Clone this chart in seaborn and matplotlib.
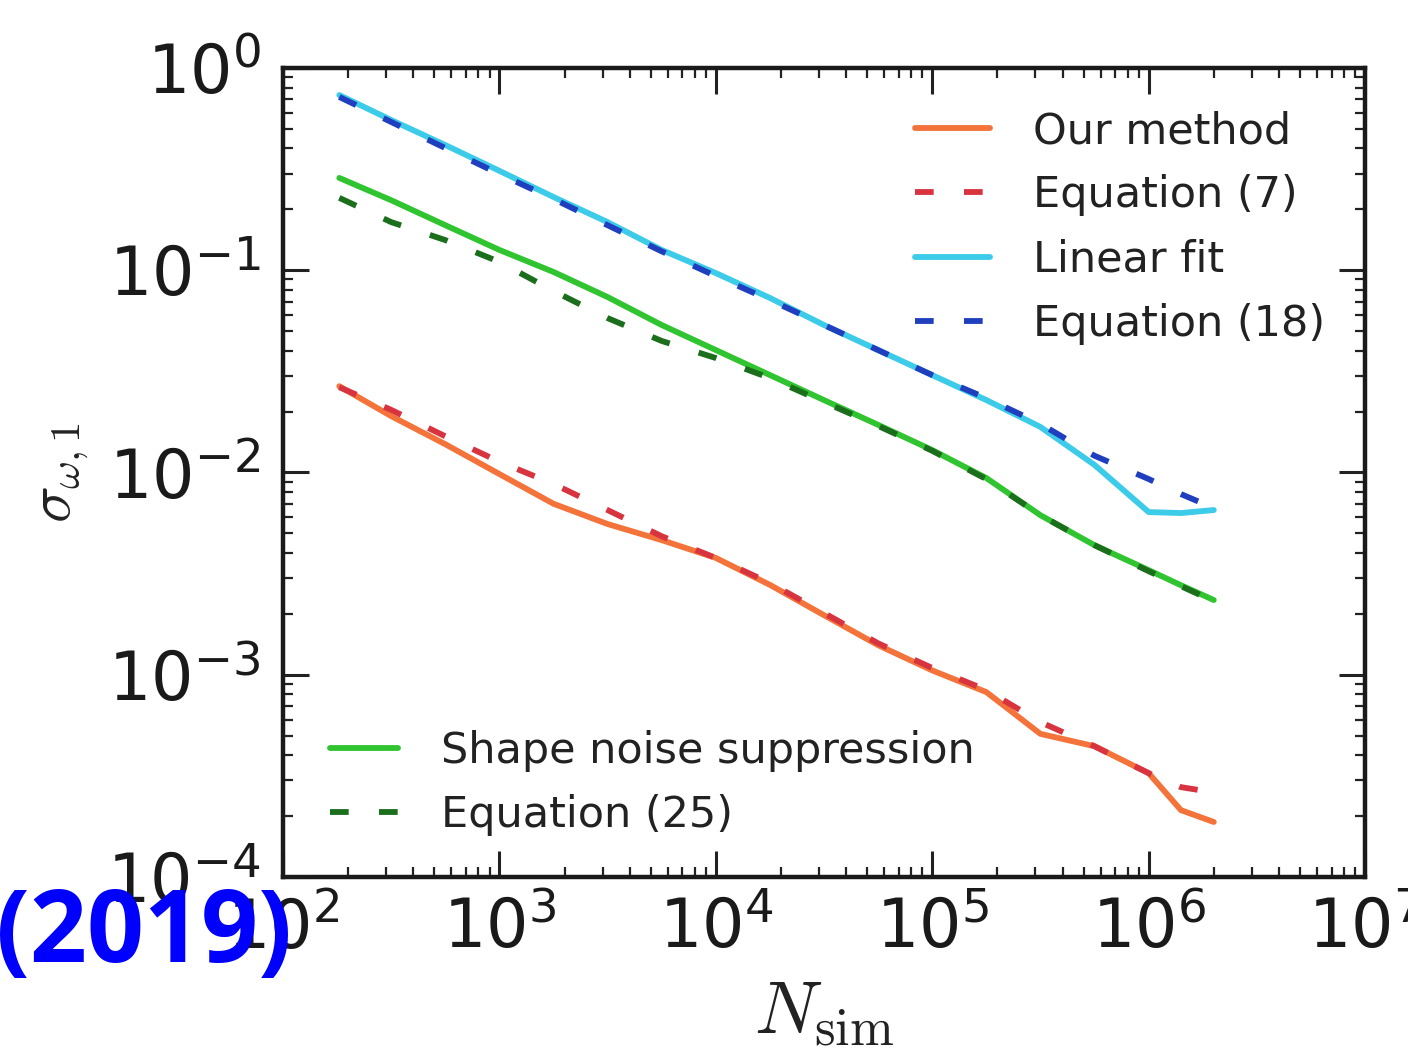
import numpy as np
import pandas as pd
import matplotlib
matplotlib.use("Agg")
import matplotlib.pyplot as plt
import seaborn as sns
from matplotlib.ticker import LogLocator, NullFormatter

# Number of simulations
n_sim = [182, 316, 562, 1.0e3, 1.78e3, 3.16e3, 5.62e3, 1.0e4, 1.78e4,
         3.16e4, 5.62e4, 1.0e5, 1.78e5, 3.16e5, 5.62e5, 1.0e6, 1.41e6, 2.0e6]

# sigma_{omega,1} for each estimate
our_method = [0.0267, 0.0190, 0.0138, 0.00982, 0.00700, 0.00556, 0.00463, 0.00378,
              0.00278, 0.00197, 0.00140, 0.00105, 0.00082, 0.000510, 0.000443,
              0.000326, 0.000214, 0.000187]
equation_7 = [0.0264, 0.0204, 0.0151, 0.0113, 0.00877, 0.00652, 0.00484, 0.00378,
              0.00284, 0.00202, 0.00143, 0.00108, 0.00084, 0.000583, 0.000443,
              0.000326, 0.000278, 0.000262]
linear_fit = [0.735, 0.553, 0.416, 0.310, 0.230, 0.173, 0.126, 0.0968, 0.0729,
              0.0536, 0.0403, 0.0303, 0.0228, 0.0168, 0.0109, 0.00637, 0.00630,
              0.00652]
equation_18 = [0.719, 0.541, 0.402, 0.299, 0.225, 0.167, 0.124, 0.0936, 0.0712,
               0.0536, 0.0403, 0.0303, 0.0233, 0.0174, 0.0121, 0.00928, 0.00782,
               0.00667]
shape_noise = [0.286, 0.222, 0.167, 0.126, 0.098, 0.0737, 0.0536, 0.0403, 0.0303,
               0.0228, 0.0172, 0.0129, 0.00938, 0.00615, 0.00437, 0.00329, 0.00277,
               0.00234]
equation_25 = [0.228, 0.173, 0.141, 0.110, 0.0789, 0.0580, 0.0447, 0.0368, 0.0293,
               0.0223, 0.0170, 0.0128, 0.00927, 0.00615, 0.00437, 0.00325, 0.00274,
               0.00231]

series_labels = ["Our method", "Equation (7)", "Linear fit", "Equation (18)",
                 "Shape noise suppression", "Equation (25)"]
series_values = [our_method, equation_7, linear_fit, equation_18,
                 shape_noise, equation_25]
series_colors = ["#f4733a", "#d8343f", "#3ccbe8", "#1f3fbf", "#30c430", "#1b6e1b"]
dash = (0, (3.2, 5.2))
series_styles = ["-", dash, "-", dash, "-", dash]

df = pd.concat(
    [pd.DataFrame({"N": n_sim, "sigma": v, "series": lab})
     for lab, v in zip(series_labels, series_values)],
    ignore_index=True,
)

sns.set_theme(style="ticks")
plt.rcParams["font.family"] = ["DejaVu Sans"]

fig = plt.figure(figsize=(14.08, 10.59), dpi=100)
ax = fig.add_axes([0.201, 0.1719, 0.7685, 0.7639])

lines = []
for lab, col, ls in zip(series_labels, series_colors, series_styles):
    sub = df[df["series"] == lab]
    sns.lineplot(data=sub, x="N", y="sigma", ax=ax, color=col, linestyle=ls,
                 linewidth=4.2, label=lab, legend=False)
    lines.append(ax.lines[-1])

ax.set_xscale("log")
ax.set_yscale("log")
ax.set_xlim(1e2, 1e7)
ax.set_ylim(1e-4, 1e0)

ax.xaxis.set_major_locator(LogLocator(base=10, numticks=10))
ax.yaxis.set_major_locator(LogLocator(base=10, numticks=10))
ax.xaxis.set_minor_locator(LogLocator(base=10, subs=np.arange(2, 10), numticks=20))
ax.yaxis.set_minor_locator(LogLocator(base=10, subs=np.arange(2, 10), numticks=20))
ax.xaxis.set_minor_formatter(NullFormatter())
ax.yaxis.set_minor_formatter(NullFormatter())

ax.tick_params(which="both", direction="in", top=True, right=True,
               color="#222222")
ax.tick_params(which="major", length=19, width=2.2, labelsize=48,
               labelcolor="#1a1a1a")
ax.tick_params(axis="x", which="major", pad=14)
ax.tick_params(axis="y", which="major", pad=16)
ax.tick_params(which="minor", length=7, width=1.6)

for sp in ax.spines.values():
    sp.set_linewidth(3.2)
    sp.set_color("#1a1a1a")

ax.set_xlabel(r"$N_{\rm sim}$", fontsize=54, math_fontfamily="cm",
              color="#222222", labelpad=10)
ax.set_ylabel(r"$\sigma_{\omega,1}$", fontsize=44, math_fontfamily="cm",
              color="#222222", labelpad=12)

leg1 = ax.legend(handles=lines[:4], loc="upper left",
                 bbox_to_anchor=(0.584, 0.948), frameon=False,
                 fontsize=31, handlelength=1.75, handletextpad=1.0,
                 labelspacing=0.52, borderpad=0, borderaxespad=0)
for t in leg1.get_texts():
    t.set_color("#222222")
ax.add_artist(leg1)
leg2 = ax.legend(handles=lines[4:], loc="upper left",
                 bbox_to_anchor=(0.043, 0.182), frameon=False,
                 fontsize=31, handlelength=1.6, handletextpad=1.0,
                 labelspacing=0.52, borderpad=0, borderaxespad=0)
for t in leg2.get_texts():
    t.set_color("#222222")

fig.text(-0.003, 1 - 962 / 1059, "(2019)", color="#0000ff",
         fontweight="bold", fontsize=72, family=["Open Sans", "DejaVu Sans"],
         ha="left", va="baseline")

fig.savefig("out.png", dpi=100, facecolor="white")
